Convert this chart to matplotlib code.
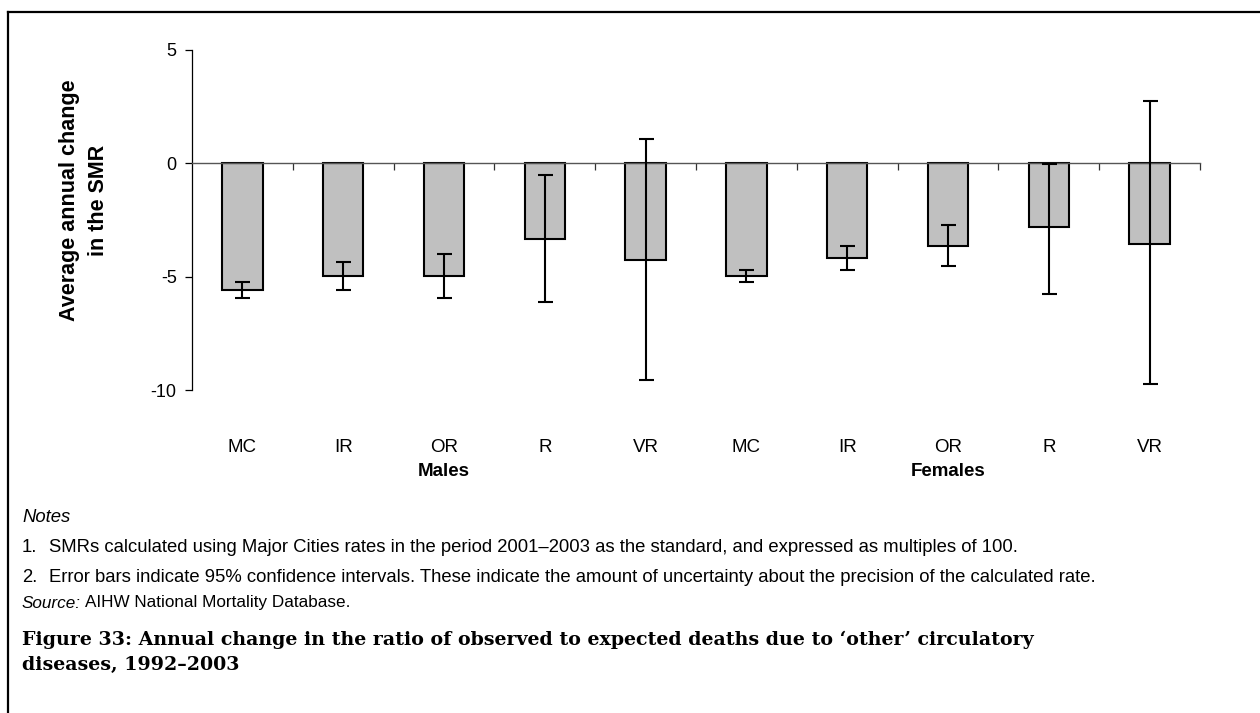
import matplotlib
matplotlib.use("Agg")
import matplotlib.pyplot as plt
import matplotlib.transforms as mtransforms
import numpy as np
from matplotlib.lines import Line2D

categories = ["MC", "IR", "OR", "R", "VR", "MC", "IR", "OR", "R", "VR"]
groups = ["Males", "Females"]
values = [-5.58, -4.96, -4.96, -3.36, -4.25, -4.96, -4.16, -3.63, -2.83, -3.54]
ci_low = [-5.93, -5.58, -5.93, -6.11, -9.56, -5.22, -4.69, -4.51, -5.75, -9.73]
ci_high = [-5.22, -4.34, -3.98, -0.53, 1.06, -4.69, -3.63, -2.74, -0.02, 2.74]
yticks = [5, 0, -5, -10]

W, H = 1260, 713
fig = plt.figure(figsize=(W / 100, H / 100), dpi=100)
sans = "Liberation Sans"

ax = fig.add_axes([192 / W, 1 - 390 / H, (1200 - 192) / W, (390 - 50) / H])
x = np.arange(len(categories))
vals = np.array(values)
err = np.array([vals - np.array(ci_low), np.array(ci_high) - vals])
ax.bar(x, vals, width=0.4, color="#C0C0C0", edgecolor="black", linewidth=1.5, zorder=2)
ax.errorbar(x, vals, yerr=err, fmt="none", ecolor="black", elinewidth=1.5,
            capsize=5.4, capthick=1.5, zorder=3)
ax.set_xlim(-0.5, 9.5)
ax.set_ylim(-10, 5)
ax.set_yticks(yticks)
ax.set_yticklabels([str(t) for t in yticks], fontsize=13, family=sans)
ax.tick_params(axis="y", direction="out", length=5, width=0.9, pad=6)
for s in ["top", "right"]:
    ax.spines[s].set_visible(False)
ax.spines["left"].set_linewidth(0.9)
ax.spines["bottom"].set_position(("data", 0))
ax.spines["bottom"].set_color("#555555")
ax.spines["bottom"].set_linewidth(1.0)
ax.set_xticks(np.arange(0.5, 10, 1.0))
ax.set_xticklabels([])
ax.tick_params(axis="x", direction="out", length=5, width=0.9, color="#333333")

blend = mtransforms.blended_transform_factory(ax.transData, fig.transFigure)
for i, c in enumerate(categories):
    ax.text(i, 1 - 448 / H, c, transform=blend, ha="center", va="center",
            fontsize=13.5, family=sans)
ax.text(2, 1 - 471 / H, groups[0], transform=blend, ha="center", va="center",
        fontsize=13.5, fontweight="bold", family=sans)
ax.text(7, 1 - 471 / H, groups[1], transform=blend, ha="center", va="center",
        fontsize=13.5, fontweight="bold", family=sans)

fig.text(84 / W, 1 - 200 / H, "Average annual change\nin the SMR", rotation=90,
         ha="center", va="center", fontsize=15.5, fontweight="bold", family=sans,
         linespacing=1.5)

# frame lines (top and left)
fig.add_artist(Line2D([8 / W, 1], [1 - 12 / H, 1 - 12 / H], color="black", linewidth=1.6,
                      transform=fig.transFigure))
fig.add_artist(Line2D([8 / W, 8 / W], [0, 1 - 12 / H], color="black", linewidth=1.6,
                      transform=fig.transFigure))

fs = 13.3
lx = 22
fig.text(lx / W, 1 - 518 / H, "Notes", fontsize=fs, style="italic", family=sans, va="center")
fig.text(lx / W, 1 - 548 / H, "1.", fontsize=fs, family=sans, va="center")
fig.text(49 / W, 1 - 548 / H,
         "SMRs calculated using Major Cities rates in the period 2001\u20132003 as the standard, and expressed as multiples of 100.",
         fontsize=fs, family=sans, va="center")
fig.text(lx / W, 1 - 577 / H, "2.", fontsize=fs, family=sans, va="center")
fig.text(49 / W, 1 - 577 / H,
         "Error bars indicate 95% confidence intervals. These indicate the amount of uncertainty about the precision of the calculated rate.",
         fontsize=fs, family=sans, va="center")
sfs = 12.3
src = fig.text(lx / W, 1 - 603 / H, "Source:", fontsize=sfs, style="italic", family=sans, va="center")
fig.canvas.draw()
bb = src.get_window_extent()
fig.text((bb.x1 + 4) / W, 1 - 603 / H, "AIHW National Mortality Database.", fontsize=sfs,
         family=sans, va="center")

tfs = 13.7
fig.text(lx / W, 1 - 640 / H,
         "Figure 33: Annual change in the ratio of observed to expected deaths due to \u2018other\u2019 circulatory",
         fontsize=tfs, fontweight="bold", family="DejaVu Serif", va="center")
fig.text(lx / W, 1 - 665 / H, "diseases, 1992\u20132003",
         fontsize=tfs, fontweight="bold", family="DejaVu Serif", va="center")

fig.savefig("out.png", dpi=100)
